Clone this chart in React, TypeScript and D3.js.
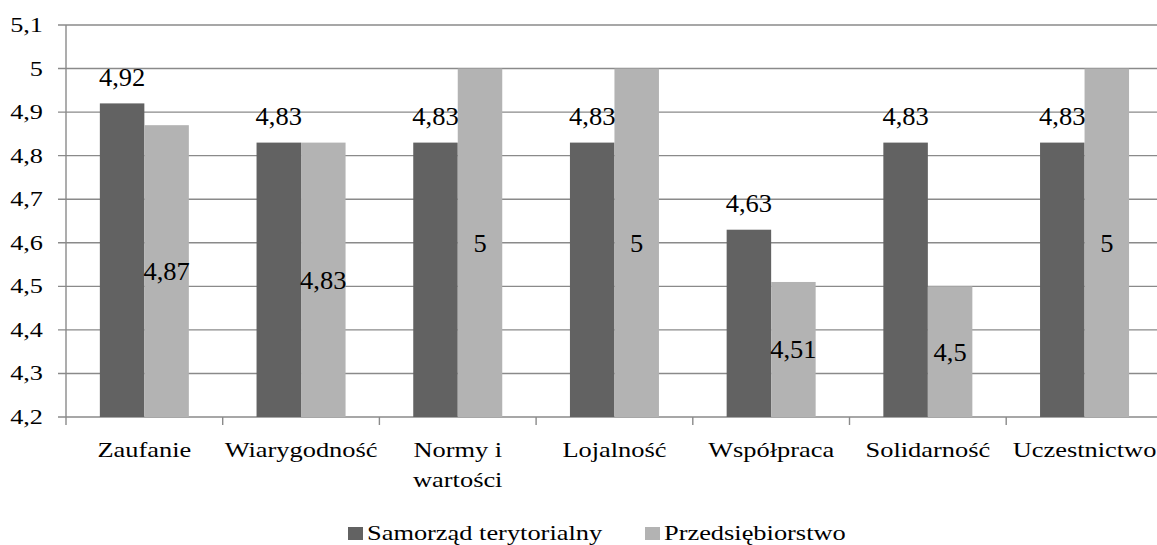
import React from "react";
import * as d3 from "d3";

const categories = ["Zaufanie", "Wiarygodność", "Normy i wartości", "Lojalność", "Współpraca", "Solidarność", "Uczestnictwo"];
const seriesNames = ["Samorząd terytorialny", "Przedsiębiorstwo"];
const samorzad = [4.92, 4.83, 4.83, 4.83, 4.63, 4.83, 4.83];
const przedsiebiorstwo = [4.87, 4.83, 5, 5, 4.51, 4.5, 5];
const yTicks = [4.2, 4.3, 4.4, 4.5, 4.6, 4.7, 4.8, 4.9, 5, 5.1];

const W = 1157, H = 545;
const FONT = "'Liberation Serif', 'Times New Roman', serif";
const DARK = "#626262";
const LIGHT = "#b3b3b3";
const GRID = "#8a8a8a";

const fmt = (v: number) => String(+v.toFixed(2)).replace(".", ",");

type TP = { x: number; y: number; anchor?: string; fs: number; sx: number; children: React.ReactNode };
function T({ x, y, anchor = "middle", fs, sx, children }: TP) {
  return (
    <text transform={`translate(${x},${y}) scale(${sx},1)`} textAnchor={anchor} fontFamily={FONT} fontSize={fs} fill="#000">
      {children}
    </text>
  );
}

const CAT_FS = 22, CAT_SX = 1.2;
const AX_FS = 21, AX_SX = 1.25;
const LAB_FS = 25, LAB_SX = 1.06;
const LEG_FS = 22, LEG_SX = 1.2;

function measure(s: string, fs: number, sx: number) {
  const c = document.createElement("canvas").getContext("2d")!;
  c.font = `${fs}px ${FONT}`;
  return c.measureText(s).width * sx;
}

function wrap(label: string, maxW: number) {
  const words = label.split(" ");
  const lines: string[] = [];
  let cur = "";
  for (const w of words) {
    const t = cur ? cur + " " + w : w;
    if (cur && measure(t, CAT_FS, CAT_SX) > maxW) {
      lines.push(cur);
      cur = w;
    } else cur = t;
  }
  if (cur) lines.push(cur);
  return lines;
}

export default function App() {
  const left = 66, top = 25, bottom = 417;
  const step = 156.7;
  const x = d3.scaleBand<string>().domain(categories).range([left, left + step * categories.length]).paddingInner(0.432).paddingOuter(0.216);
  const xs = d3.scaleBand<number>().domain([0, 1]).range([0, x.bandwidth()]);
  const y = d3.scaleLinear().domain([4.2, 5.1]).range([bottom, top]);
  const series = [samorzad, przedsiebiorstwo];
  const colors = [DARK, LIGHT];
  const boundaries = d3.range(categories.length + 1).map((i) => left + i * x.step());

  return (
    <svg width={W} height={H} style={{ position: "absolute", left: 0, top: 0, background: "#fff" }}>
      {yTicks.map((t) => (
        <g key={t}>
          <line x1={58} x2={W} y1={y(t)} y2={y(t)} stroke={GRID} strokeWidth={1.4} />
          <T x={43} y={y(t) + 7} anchor="end" fs={AX_FS} sx={AX_SX}>{fmt(t)}</T>
        </g>
      ))}
      <line x1={left} x2={left} y1={top} y2={bottom} stroke={GRID} strokeWidth={1.4} />
      {boundaries.map((b, i) => (
        <line key={i} x1={b} x2={b} y1={bottom} y2={bottom + 8} stroke={GRID} strokeWidth={1.4} />
      ))}
      {series.map((vals, si) =>
        vals.map((v, i) => {
          const bx = (x(categories[i]) as number) + (xs(si) as number);
          return (
            <rect key={`${si}-${i}`} x={bx} y={y(v)} width={xs.bandwidth()} height={y(4.2) - y(v)} fill={colors[si]} />
          );
        })
      )}
      {samorzad.map((v, i) => {
        const cx = (x(categories[i]) as number) + (xs(0) as number) + xs.bandwidth() / 2;
        return <T key={`ld${i}`} x={cx} y={y(v) - 17.5} fs={LAB_FS} sx={LAB_SX}>{fmt(v)}</T>;
      })}
      {przedsiebiorstwo.map((v, i) => {
        const cx = (x(categories[i]) as number) + (xs(1) as number) + xs.bandwidth() / 2;
        return <T key={`ll${i}`} x={cx} y={(y(v) + y(4.2)) / 2 + 9} fs={LAB_FS} sx={LAB_SX}>{fmt(v)}</T>;
      })}
      {categories.map((c, i) => {
        const cx = (x(c) as number) + x.bandwidth() / 2;
        const lines = wrap(c, x.step() - 4);
        return lines.map((ln, li) => (
          <T key={`c${i}-${li}`} x={cx} y={bottom + 40 + li * 30} fs={CAT_FS} sx={CAT_SX}>{ln}</T>
        ));
      })}
      {seriesNames.map((n, i) => {
        const lx = i === 0 ? 348 : 645;
        return (
          <g key={n}>
            <rect x={lx} y={527} width={15} height={13} fill={colors[i]} />
            <T x={lx + 19} y={540} anchor="start" fs={LEG_FS} sx={LEG_SX}>{n}</T>
          </g>
        );
      })}
    </svg>
  );
}
